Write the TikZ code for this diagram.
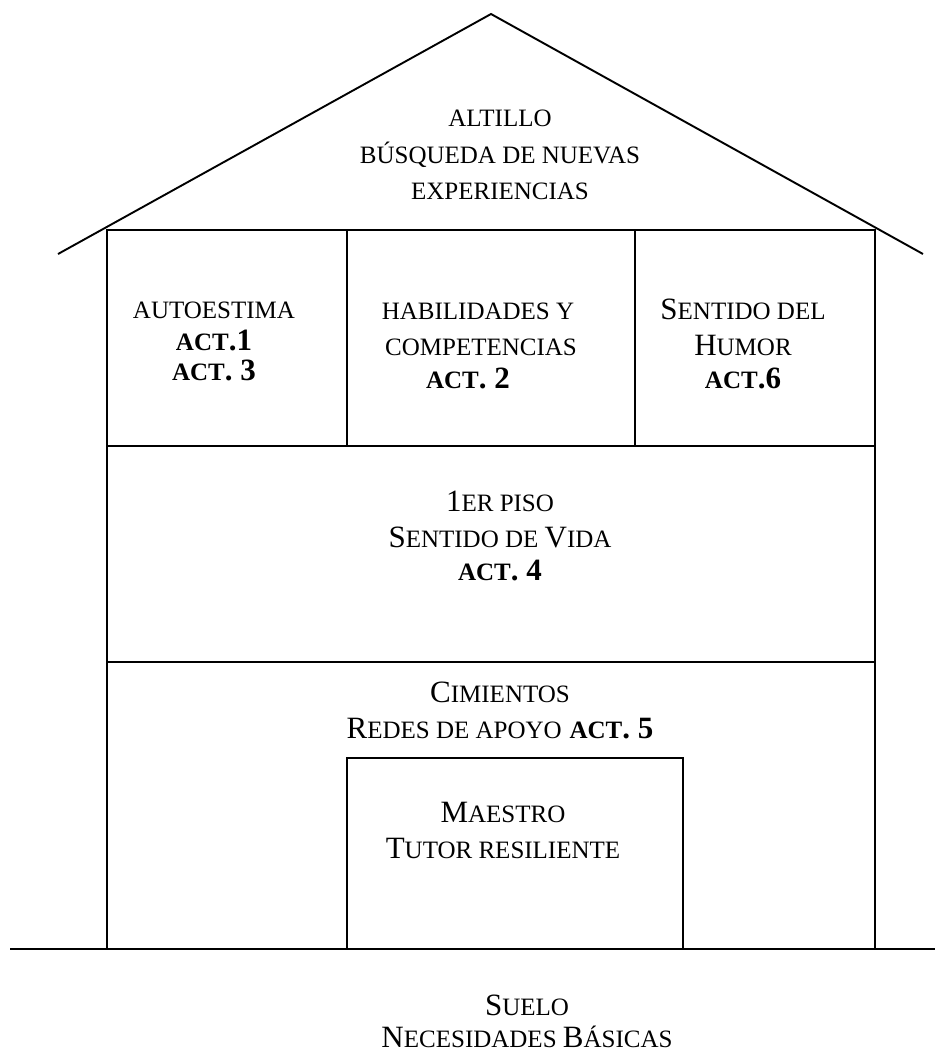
\documentclass[tikz,border=0pt]{standalone}
\usepackage{fontspec}
\setmainfont{Liberation Serif}
\newcommand\smc[1]{{\fontsize{25}{30}\selectfont #1}}
\begin{document}
\begin{tikzpicture}[x=1pt,y=-1pt,
  wall/.style={line width=1.9pt, line join=miter},
  ground/.style={line width=2.4pt},
  lbl/.style={anchor=base, inner sep=0pt, font=\fontsize{31}{35}\selectfont}]
\useasboundingbox (0,0) rectangle (935,1053);
% roof
\draw[wall] (58,254) -- (491,14) -- (923,254);
% house body
\draw[wall] (107,949) -- (107,230) -- (875,230) -- (875,949);
\draw[wall] (107,446) -- (875,446);
\draw[wall] (107,662) -- (875,662);
\draw[wall] (347,230) -- (347,446);
\draw[wall] (635,230) -- (635,446);
% inner box
\draw[wall] (347,949) -- (347,758) -- (683,758) -- (683,949);
% ground
\draw[ground] (10,949) -- (935,949);
% attic
\node[lbl] (alt1) at (500,126) {\smc{ALTILLO}};
\node[lbl] (alt2) at (500,163) {\smc{BÚSQUEDA DE NUEVAS}};
\node[lbl] (alt3) at (500,199) {\smc{EXPERIENCIAS}};
% second floor
\node[lbl] (aut1) at (214,318) {\smc{AUTOESTIMA}};
\node[lbl] (aut2) at (214,350) {\textbf{\smc{ACT}.1}};
\node[lbl] (aut3) at (214,380) {\textbf{\smc{ACT}. 3}};
\node[lbl] (hab1) at (478,319) {\smc{HABILIDADES Y}};
\node[lbl] (hab2) at (481,355) {\smc{COMPETENCIAS}};
\node[lbl] (hab3) at (468,388) {\textbf{\smc{ACT}. 2}};
\node[lbl] (hum1) at (743,319) {S\smc{ENTIDO DEL}};
\node[lbl] (hum2) at (743,355) {H\smc{UMOR}};
\node[lbl] (hum3) at (743,388) {\textbf{\smc{ACT}.6}};
% first floor
\node[lbl] (pis1) at (500,511) {1\smc{ER PISO}};
\node[lbl] (pis2) at (500,547) {S\smc{ENTIDO DE }V\smc{IDA}};
\node[lbl] (pis3) at (500,580) {\textbf{\smc{ACT}. 4}};
% foundations
\node[lbl] (cim1) at (500,702) {C\smc{IMIENTOS}};
\node[lbl] (cim2) at (500,738) {R\smc{EDES DE APOYO} \textbf{\smc{ACT}. 5}};
\node[lbl] (mae1) at (503,822) {M\smc{AESTRO}};
\node[lbl] (mae2) at (503,858) {T\smc{UTOR RESILIENTE}};
% soil
\node[lbl] (sue1) at (527,1015) {S\smc{UELO}};
\node[lbl] (sue2) at (527,1047) {N\smc{ECESIDADES }B\smc{ÁSICAS}};
\end{tikzpicture}
\end{document}
